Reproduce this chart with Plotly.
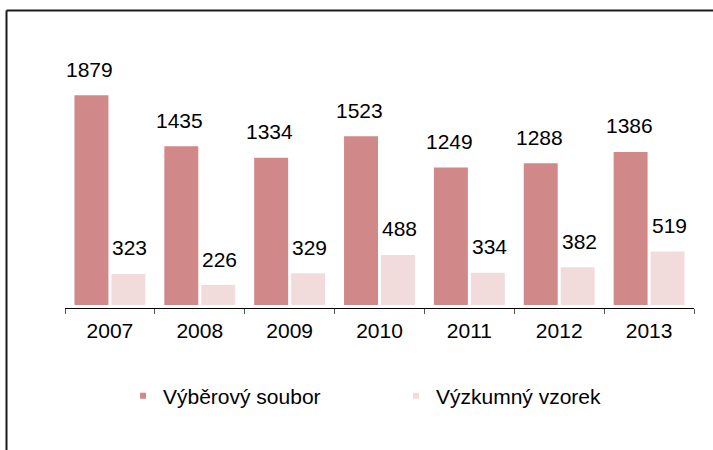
import plotly.graph_objects as go

years = ["2007", "2008", "2009", "2010", "2011", "2012", "2013"]
vyberovy = [1879, 1435, 1334, 1523, 1249, 1288, 1386]
vyzkumny = [323, 226, 329, 488, 334, 382, 519]
series_names = ["Výběrový soubor", "Výzkumný vzorek"]
colors = ["#D08888", "#F2DBDB"]

FONT = "Liberation Sans, Arial, sans-serif"
FS = 21

fig = go.Figure()
fig.add_trace(go.Bar(x=years, y=vyberovy, name=series_names[0], marker_color=colors[0],
                     marker_line_width=0, showlegend=False))
fig.add_trace(go.Bar(x=years, y=vyzkumny, name=series_names[1], marker_color=colors[1],
                     marker_line_width=0, showlegend=False))
# legend entries with small square markers (no visible points)
for nm, c in zip(series_names, colors):
    fig.add_trace(go.Scatter(x=years[:1], y=[-1e6], mode="markers", name=nm,
                             marker=dict(symbol="square", size=6, color=c),
                             hoverinfo="skip"))

annotations = []
for vals, shift in ((vyberovy, -20), (vyzkumny, 20)):
    for i, v in enumerate(vals):
        annotations.append(dict(x=i, y=v, xref="x", yref="y", text=str(v), showarrow=False,
                                xshift=shift, yshift=26, yanchor="middle",
                                font=dict(family=FONT, size=FS, color="#000")))

L, R, T, B = 65, 19, 40, 142
W, H = 713, 450
pw, ph = W - L - R, H - T - B

def px(x):
    return (x - L) / pw

def py(y):
    return (H - B - y) / ph

scale = 0.1148
y_min = (311 - 305) / scale
y_max = (311 - 40) / scale

shapes = [
    dict(type="line", xref="paper", yref="paper", x0=px(6.5), x1=px(713), y0=py(10.5), y1=py(10.5),
         line=dict(color="#1a1a1a", width=2)),
    dict(type="line", xref="paper", yref="paper", x0=px(6.5), x1=px(6.5), y0=py(10.5), y1=py(451),
         line=dict(color="#1a1a1a", width=2)),
]

fig.update_layout(
    width=W, height=H,
    margin=dict(l=L, r=R, t=T, b=B, autoexpand=False),
    paper_bgcolor="white", plot_bgcolor="white",
    barmode="group", bargap=16 / 90, bargroupgap=0.081,
    font=dict(family=FONT, size=FS, color="#000"),
    xaxis=dict(type="category", categoryorder="array", categoryarray=years,
               range=[-0.5, len(years) - 0.5], automargin=False,
               showline=True, linecolor="#000", linewidth=1,
               ticks="outside", tickson="boundaries", ticklen=5, tickcolor="#555",
               ticklabelstandoff=4,
               tickfont=dict(family=FONT, size=FS, color="#000"),
               anchor="free", position=0, showgrid=False, fixedrange=True),
    yaxis=dict(visible=False, range=[y_min, y_max], domain=[3 / ph, 1], automargin=False,
               showgrid=False, zeroline=False, fixedrange=True),
    legend=dict(orientation="h", x=px(123), xanchor="left", y=py(396), yanchor="middle",
                entrywidth=228, font=dict(family=FONT, size=FS, color="#000"),
                bgcolor="rgba(0,0,0,0)"),
    annotations=annotations,
    shapes=shapes,
)

fig.write_html("out.html", config={"displayModeBar": False},
               post_script="document.body.style.margin='0';")
